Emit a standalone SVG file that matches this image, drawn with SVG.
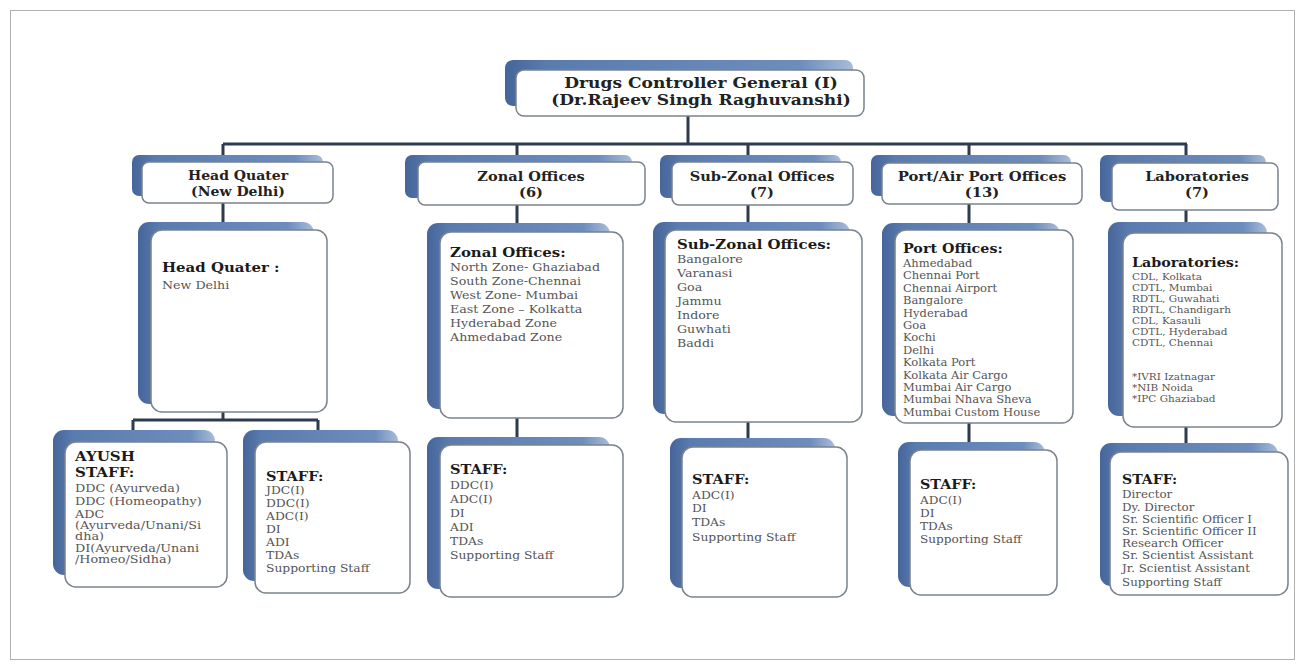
<svg xmlns="http://www.w3.org/2000/svg" width="1303" height="668" viewBox="0 0 1303 668">
<defs>
<linearGradient id="sg" x1="0" y1="0" x2="1" y2="0">
<stop offset="0" stop-color="#46659a"/>
<stop offset="0.12" stop-color="#5a7bae"/>
<stop offset="0.85" stop-color="#6d8dbd"/>
<stop offset="1" stop-color="#a9bcd8"/>
</linearGradient>
</defs>
<style>
.sh{fill:url(#sg);}
.fr{fill:#fff;stroke:#7a828c;stroke-width:1.5;}
.cn{stroke:#2e3b4e;stroke-width:3;fill:none;}
text{font-family:"DejaVu Serif","Liberation Serif",serif;}
.hd{font-weight:bold;fill:#222;font-size:13px;text-anchor:middle;}
.top{font-weight:bold;fill:#222;font-size:14px;text-anchor:middle;}
.bd{font-size:11px;fill:#555;}
.bs{font-size:10.5px;fill:#555;}
.bl{font-size:9.5px;fill:#555;}
.bh{font-weight:bold;fill:#1a1a1a;font-size:13px;}
</style>
<rect x="10.5" y="10.5" width="1284" height="649" fill="#fff" stroke="#b0b0b0" stroke-width="1"/>
<g id="connectors">
<path class="cn" d="M688 116V144M223 144H1187M223 144V420M133 420H318M133 420V442M318 420V442M517 144V445M748 144V447M969 144V450M1186 144V452"/>
</g>
<g id="dcg">
<rect class="sh" x="505" y="60" width="348" height="46" rx="8"/>
<rect class="fr" x="516" y="70" width="348" height="46" rx="8"/>
<text class="top" transform="translate(701,0) scale(1.22,1)"><tspan x="0" y="88">Drugs Controller General (I)</tspan><tspan x="0" y="105">(Dr.Rajeev Singh Raghuvanshi)</tspan></text>
</g>
<g id="hq">
<rect class="sh" x="132" y="155" width="191" height="41" rx="7"/>
<rect class="fr" x="142" y="162" width="191" height="41" rx="7"/>
<text class="hd" transform="translate(238,0) scale(1.08,1)"><tspan x="0" y="180">Head Quater</tspan><tspan x="0" y="196">(New Delhi)</tspan></text>
</g>
<g id="zonal">
<rect class="sh" x="405" y="155" width="227" height="43" rx="7"/>
<rect class="fr" x="418" y="162" width="227" height="43" rx="7"/>
<text class="hd" transform="translate(531,0) scale(1.12,1)"><tspan x="0" y="181">Zonal Offices</tspan><tspan x="0" y="197">(6)</tspan></text>
</g>
<g id="subzonal">
<rect class="sh" x="660" y="155" width="181" height="43" rx="7"/>
<rect class="fr" x="672" y="162" width="181" height="43" rx="7"/>
<text class="hd" transform="translate(762,0) scale(1.12,1)"><tspan x="0" y="181">Sub-Zonal Offices</tspan><tspan x="0" y="197">(7)</tspan></text>
</g>
<g id="port">
<rect class="sh" x="871" y="155" width="200" height="41" rx="7"/>
<rect class="fr" x="882" y="163" width="200" height="41" rx="7"/>
<text class="hd" transform="translate(982,0) scale(1.14,1)"><tspan x="0" y="181">Port/Air Port Offices</tspan><tspan x="0" y="197">(13)</tspan></text>
</g>
<g id="labs">
<rect class="sh" x="1100" y="155" width="166" height="47" rx="7"/>
<rect class="fr" x="1112" y="163" width="166" height="47" rx="7"/>
<text class="hd" transform="translate(1197,0) scale(1.12,1)"><tspan x="0" y="181">Laboratories</tspan><tspan x="0" y="197">(7)</tspan></text>
</g>
<g id="hq-body">
<rect class="sh" x="138" y="222" width="176" height="182" rx="11"/>
<rect class="fr" x="151" y="230" width="176" height="182" rx="11"/>
<text transform="translate(162,0) scale(1.15,1)"><tspan class="bh" x="0" y="272">Head Quater :</tspan><tspan class="bd" x="0" y="289">New Delhi</tspan></text>
</g>
<g id="zonal-body">
<rect class="sh" x="427" y="223" width="183" height="186" rx="11"/>
<rect class="fr" x="440" y="232" width="183" height="186" rx="11"/>
<text transform="translate(450,0) scale(1.15,1)"><tspan class="bh" x="0" y="257">Zonal Offices:</tspan><tspan class="bd" x="0" y="271">North Zone- Ghaziabad</tspan><tspan class="bd" x="0" y="285">South Zone-Chennai</tspan><tspan class="bd" x="0" y="299">West Zone- Mumbai</tspan><tspan class="bd" x="0" y="313">East Zone – Kolkatta</tspan><tspan class="bd" x="0" y="327">Hyderabad Zone</tspan><tspan class="bd" x="0" y="341">Ahmedabad Zone</tspan></text>
</g>
<g id="subzonal-body">
<rect class="sh" x="653" y="222" width="197" height="192" rx="11"/>
<rect class="fr" x="665" y="230" width="197" height="192" rx="11"/>
<text transform="translate(677,0) scale(1.15,1)"><tspan class="bh" x="0" y="249">Sub-Zonal Offices:</tspan><tspan class="bd" x="0" y="263">Bangalore</tspan><tspan class="bd" x="0" y="277">Varanasi</tspan><tspan class="bd" x="0" y="291">Goa</tspan><tspan class="bd" x="0" y="305">Jammu</tspan><tspan class="bd" x="0" y="319">Indore</tspan><tspan class="bd" x="0" y="333">Guwhati</tspan><tspan class="bd" x="0" y="347">Baddi</tspan></text>
</g>
<g id="port-body">
<rect class="sh" x="882" y="223" width="178" height="193" rx="11"/>
<rect class="fr" x="895" y="230" width="178" height="193" rx="11"/>
<text transform="translate(903,0) scale(1.1,1)"><tspan class="bh" x="0" y="253">Port Offices:</tspan><tspan class="bs" x="0" y="267">Ahmedabad</tspan><tspan class="bs" x="0" y="279.4">Chennai Port</tspan><tspan class="bs" x="0" y="291.8">Chennai Airport</tspan><tspan class="bs" x="0" y="304.2">Bangalore</tspan><tspan class="bs" x="0" y="316.6">Hyderabad</tspan><tspan class="bs" x="0" y="329">Goa</tspan><tspan class="bs" x="0" y="341.4">Kochi</tspan><tspan class="bs" x="0" y="353.8">Delhi</tspan><tspan class="bs" x="0" y="366.2">Kolkata Port</tspan><tspan class="bs" x="0" y="378.6">Kolkata Air Cargo</tspan><tspan class="bs" x="0" y="391">Mumbai Air Cargo</tspan><tspan class="bs" x="0" y="403.4">Mumbai Nhava Sheva</tspan><tspan class="bs" x="0" y="415.8">Mumbai Custom House</tspan></text>
</g>
<g id="labs-body">
<rect class="sh" x="1108" y="222" width="159" height="194" rx="11"/>
<rect class="fr" x="1123" y="233" width="159" height="194" rx="11"/>
<text transform="translate(1132,0) scale(1.1,1)"><tspan class="bh" x="0" y="267">Laboratories:</tspan><tspan class="bl" x="0" y="280.5">CDL, Kolkata</tspan><tspan class="bl" x="0" y="291.5">CDTL, Mumbai</tspan><tspan class="bl" x="0" y="302.5">RDTL, Guwahati</tspan><tspan class="bl" x="0" y="313.5">RDTL, Chandigarh</tspan><tspan class="bl" x="0" y="324.5">CDL, Kasauli</tspan><tspan class="bl" x="0" y="335.5">CDTL, Hyderabad</tspan><tspan class="bl" x="0" y="346.5">CDTL, Chennai</tspan><tspan class="bl" x="0" y="380.5">*IVRI Izatnagar</tspan><tspan class="bl" x="0" y="391.5">*NIB Noida</tspan><tspan class="bl" x="0" y="402">*IPC Ghaziabad</tspan></text>
</g>
<g id="ayush-staff">
<rect class="sh" x="53" y="430" width="162" height="145" rx="11"/>
<rect class="fr" x="65" y="442" width="162" height="145" rx="11"/>
<text transform="translate(75,0) scale(1.16,1)"><tspan class="bh" x="0" y="461">AYUSH</tspan><tspan class="bh" x="0" y="477">STAFF:</tspan><tspan class="bd" x="0" y="492">DDC (Ayurveda)</tspan><tspan class="bd" x="0" y="505">DDC (Homeopathy)</tspan><tspan class="bd" x="0" y="518">ADC</tspan><tspan class="bd" x="0" y="529">(Ayurveda/Unani/Si</tspan><tspan class="bd" x="0" y="540">dha)</tspan><tspan class="bd" x="0" y="552">DI(Ayurveda/Unani</tspan><tspan class="bd" x="0" y="563">/Homeo/Sidha)</tspan></text>
</g>
<g id="hq-staff">
<rect class="sh" x="243" y="430" width="155" height="151" rx="11"/>
<rect class="fr" x="255" y="442" width="155" height="151" rx="11"/>
<text transform="translate(266,0) scale(1.12,1)"><tspan class="bh" x="0" y="481">STAFF:</tspan><tspan class="bd" x="0" y="494">JDC(I)</tspan><tspan class="bd" x="0" y="507">DDC(I)</tspan><tspan class="bd" x="0" y="520">ADC(I)</tspan><tspan class="bd" x="0" y="533">DI</tspan><tspan class="bd" x="0" y="546">ADI</tspan><tspan class="bd" x="0" y="559">TDAs</tspan><tspan class="bd" x="0" y="572">Supporting Staff</tspan></text>
</g>
<g id="zonal-staff">
<rect class="sh" x="427" y="437" width="183" height="152" rx="11"/>
<rect class="fr" x="440" y="445" width="183" height="152" rx="11"/>
<text transform="translate(450,0) scale(1.12,1)"><tspan class="bh" x="0" y="474">STAFF:</tspan><tspan class="bd" x="0" y="489">DDC(I)</tspan><tspan class="bd" x="0" y="503">ADC(I)</tspan><tspan class="bd" x="0" y="517">DI</tspan><tspan class="bd" x="0" y="531">ADI</tspan><tspan class="bd" x="0" y="545">TDAs</tspan><tspan class="bd" x="0" y="559">Supporting Staff</tspan></text>
</g>
<g id="subzonal-staff">
<rect class="sh" x="670" y="438" width="165" height="150" rx="11"/>
<rect class="fr" x="682" y="447" width="165" height="150" rx="11"/>
<text transform="translate(692,0) scale(1.12,1)"><tspan class="bh" x="0" y="484">STAFF:</tspan><tspan class="bd" x="0" y="499">ADC(I)</tspan><tspan class="bd" x="0" y="512">DI</tspan><tspan class="bd" x="0" y="526">TDAs</tspan><tspan class="bd" x="0" y="541">Supporting Staff</tspan></text>
</g>
<g id="port-staff">
<rect class="sh" x="898" y="442" width="147" height="145" rx="11"/>
<rect class="fr" x="910" y="450" width="147" height="145" rx="11"/>
<text transform="translate(920,0) scale(1.1,1)"><tspan class="bh" x="0" y="489">STAFF:</tspan><tspan class="bd" x="0" y="504">ADC(I)</tspan><tspan class="bd" x="0" y="517">DI</tspan><tspan class="bd" x="0" y="530">TDAs</tspan><tspan class="bd" x="0" y="543">Supporting Staff</tspan></text>
</g>
<g id="labs-staff">
<rect class="sh" x="1100" y="443" width="178" height="143" rx="11"/>
<rect class="fr" x="1110" y="452" width="178" height="143" rx="11"/>
<text transform="translate(1122,0) scale(1.08,1)"><tspan class="bh" x="0" y="484">STAFF:</tspan><tspan class="bd" x="0" y="498.5">Director</tspan><tspan class="bd" x="0" y="511">Dy. Director</tspan><tspan class="bd" x="0" y="523">Sr. Scientific Officer I</tspan><tspan class="bd" x="0" y="535">Sr. Scientific Officer II</tspan><tspan class="bd" x="0" y="547">Research Officer</tspan><tspan class="bd" x="0" y="559">Sr. Scientist Assistant</tspan><tspan class="bd" x="0" y="572">Jr. Scientist Assistant</tspan><tspan class="bd" x="0" y="586">Supporting Staff</tspan></text>
</g>
</svg>
